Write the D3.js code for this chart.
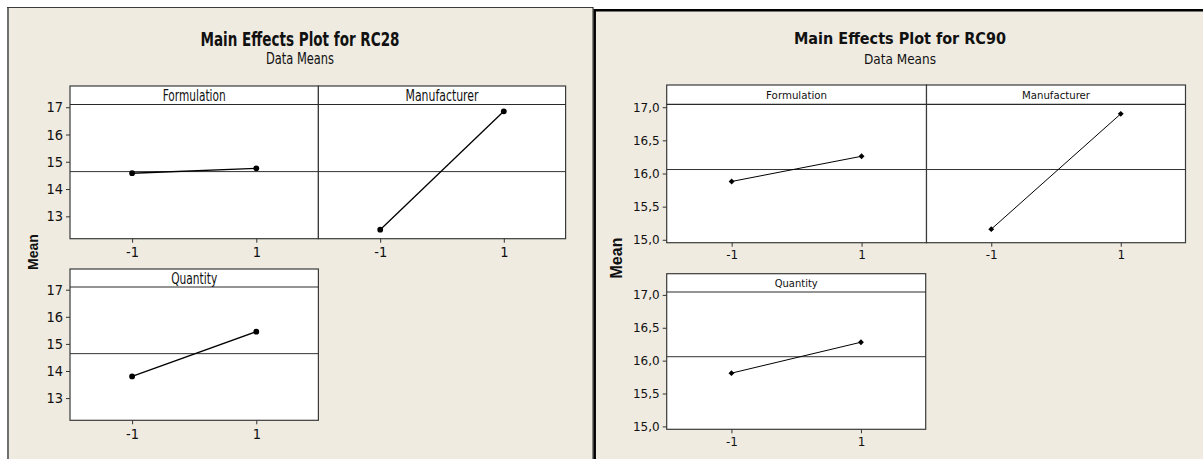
<!DOCTYPE html>
<html>
<head>
<meta charset="utf-8">
<script src="https://cdn.jsdelivr.net/npm/d3@7"></script>
<style>
  html, body { margin: 0; padding: 0; background: #ffffff; }
  svg { display: block; }
</style>
</head>
<body>
<svg id="chart" width="1203" height="459"></svg>
<script>
// ---------------- DATA ----------------
const factors = ["Formulation", "Manufacturer", "Quantity"];
const levels = [-1, 1];
const xTickLabels = ["-1", "1"];

const rc28Formulation = [14.58, 14.76];
const rc28Manufacturer = [12.51, 16.85];
const rc28Quantity = [13.80, 15.45];
const rc28GrandMean = [14.64];
const rc28Ticks = [13, 14, 15, 16, 17];

const rc90Formulation = [15.88, 16.26];
const rc90Manufacturer = [15.16, 16.90];
const rc90Quantity = [15.81, 16.28];
const rc90GrandMean = [16.06];
const rc90Ticks = [15.0, 15.5, 16.0, 16.5, 17.0];

const titles = ["Main Effects Plot for RC28", "Main Effects Plot for RC90"];
const subtitle = "Data Means";
const yLabel = "Mean";

// ---------------- DRAWING ----------------
const svg = d3.select("#chart");
const BG = "#efebe1";

// frames
svg.append("rect").attr("x", 0).attr("y", 0).attr("width", 1203).attr("height", 459).attr("fill", "#ffffff");
svg.append("rect").attr("x", 7).attr("y", 7).attr("width", 587).attr("height", 452).attr("fill", BG);
svg.append("line").attr("x1", 8).attr("x2", 8).attr("y1", 7).attr("y2", 459).attr("stroke", "#707070").attr("stroke-width", 2);
svg.append("line").attr("x1", 7).attr("x2", 593).attr("y1", 7.5).attr("y2", 7.5).attr("stroke", "#3a3a3a").attr("stroke-width", 1);
svg.append("line").attr("x1", 593).attr("x2", 593).attr("y1", 7).attr("y2", 459).attr("stroke", "#222").attr("stroke-width", 1);
svg.append("rect").attr("x", 594).attr("y", 9).attr("width", 609).attr("height", 450).attr("fill", BG);
svg.append("line").attr("x1", 594).attr("x2", 1203).attr("y1", 10.2).attr("y2", 10.2).attr("stroke", "#000").attr("stroke-width", 2.5);
svg.append("line").attr("x1", 594.7).attr("x2", 594.7).attr("y1", 9).attr("y2", 459).attr("stroke", "#000").attr("stroke-width", 2.5);

const narrow = "'Liberation Sans Narrow', 'DejaVu Sans Condensed', sans-serif";
const verd = "'DejaVu Sans', Verdana, sans-serif";

const charts = [
  {
    title: titles[0], titleX: 300, titleY: 46, titleLen: 199, titleFont: narrow, titleSize: 19,
    subX: 300, subY: 64, subFont: narrow, subSize: 15.5, subLen: 68,
    meanX: 33, meanY: 252, meanSize: 14,
    grand: rc28GrandMean[0], ticks: rc28Ticks, yDomain: [12.18, 17.10],
    fmt: d3.format("d"), tickFont: narrow, tickSize: 14.5, stripFont: narrow, stripSize: 15,
    marker: "circle", markerSize: 26, lineWidth: 1.3,
    panels: [
      { label: factors[0], labelLen: 63, values: rc28Formulation, x0: 70, x1: 318.4, top: 86, sb: 104.5, bottom: 238.7, yAxis: true },
      { label: factors[1], labelLen: 73, values: rc28Manufacturer, x0: 318.4, x1: 565.6, top: 86, sb: 104.5, bottom: 238.7, yAxis: false },
      { label: factors[2], labelLen: 46, values: rc28Quantity, x0: 70, x1: 318.4, top: 269, sb: 287, bottom: 420.3, yAxis: true }
    ]
  },
  {
    title: titles[1], titleX: 900, titleY: 44, titleLen: 212, titleFont: "'DejaVu Sans Condensed', 'DejaVu Sans', sans-serif", titleSize: 16,
    subX: 900, subY: 64, subFont: "'DejaVu Sans Condensed', 'DejaVu Sans', sans-serif", subSize: 13.5, subLen: 72,
    meanX: 616, meanY: 258, meanSize: 16,
    grand: rc90GrandMean[0], ticks: rc90Ticks, yDomain: [14.956, 17.044],
    fmt: v => d3.format(".1f")(v).replace(".", ","), tickFont: verd, tickSize: 12, stripFont: verd, stripSize: 10,
    marker: "diamond", markerSize: 22, lineWidth: 1,
    panels: [
      { label: factors[0], labelLen: 61, values: rc90Formulation, x0: 666.7, x1: 926.5, top: 85, sb: 104.3, bottom: 242.7, yAxis: true },
      { label: factors[1], labelLen: 68, values: rc90Manufacturer, x0: 926.5, x1: 1185.5, top: 85, sb: 104.3, bottom: 242.7, yAxis: false },
      { label: factors[2], labelLen: 43, values: rc90Quantity, x0: 666.7, x1: 925.7, top: 273.7, sb: 292, bottom: 429.3, yAxis: true }
    ]
  }
];

charts.forEach(c => {
  const g = svg.append("g");
  g.append("text").attr("x", c.titleX).attr("y", c.titleY).attr("text-anchor", "middle")
    .attr("font-family", c.titleFont).attr("font-weight", "bold").attr("font-size", c.titleSize)
    .attr("textLength", c.titleLen).attr("lengthAdjust", "spacingAndGlyphs")
    .attr("fill", "#111").text(c.title);
  g.append("text").attr("x", c.subX).attr("y", c.subY).attr("text-anchor", "middle")
    .attr("font-family", c.subFont).attr("font-size", c.subSize)
    .attr("textLength", c.subLen).attr("lengthAdjust", "spacingAndGlyphs")
    .attr("fill", "#111").text(subtitle);
  g.append("text").attr("transform", `translate(${c.meanX},${c.meanY}) rotate(-90)`)
    .attr("text-anchor", "middle").attr("dominant-baseline", "central")
    .attr("font-family", "'Liberation Sans', Arial, sans-serif").attr("font-weight", "bold")
    .attr("font-size", c.meanSize).attr("fill", "#111").text(yLabel);

  c.panels.forEach(p => {
    const x = d3.scaleLinear().domain([-2, 2]).range([p.x0, p.x1]);
    const y = d3.scaleLinear().domain(c.yDomain).range([p.bottom, p.sb]);
    const pg = g.append("g");

    pg.append("rect").attr("x", p.x0).attr("y", p.top).attr("width", p.x1 - p.x0).attr("height", p.bottom - p.top)
      .attr("fill", "#ffffff").attr("stroke", "#3a3a3a").attr("stroke-width", 1.2);
    pg.append("line").attr("x1", p.x0).attr("x2", p.x1).attr("y1", p.sb).attr("y2", p.sb)
      .attr("stroke", "#2a2a2a").attr("stroke-width", 1.2);
    pg.append("text").attr("x", (p.x0 + p.x1) / 2).attr("y", (p.top + p.sb) / 2 + 0.5)
      .attr("text-anchor", "middle").attr("dominant-baseline", "central")
      .attr("font-family", c.stripFont).attr("font-size", c.stripSize)
      .attr("textLength", p.labelLen).attr("lengthAdjust", "spacingAndGlyphs")
      .attr("fill", "#111").text(p.label);

    // grand mean reference line
    pg.append("line").attr("x1", p.x0).attr("x2", p.x1).attr("y1", y(c.grand)).attr("y2", y(c.grand))
      .attr("stroke", "#333").attr("stroke-width", 1);

    // y axis
    if (p.yAxis) {
      const ya = d3.axisLeft(y).tickValues(c.ticks).tickFormat(c.fmt).tickSize(4).tickPadding(3);
      const yg = pg.append("g").attr("transform", `translate(${p.x0},0)`).call(ya);
      yg.select(".domain").remove();
      yg.selectAll("line").attr("stroke", "#333");
      yg.selectAll("text").attr("font-family", c.tickFont).attr("font-size", c.tickSize).attr("fill", "#111");
    }
    // x axis
    const xa = d3.axisBottom(x).tickValues(levels).tickFormat((d, i) => xTickLabels[i]).tickSize(4).tickPadding(4);
    const xg = pg.append("g").attr("transform", `translate(0,${p.bottom})`).call(xa);
    xg.select(".domain").remove();
    xg.selectAll("line").attr("stroke", "#333");
    xg.selectAll("text").attr("font-family", c.tickFont).attr("font-size", c.tickSize).attr("fill", "#111");

    // data
    const pts = levels.map((l, i) => [l, p.values[i]]);
    pg.append("path").datum(pts)
      .attr("d", d3.line().x(d => x(d[0])).y(d => y(d[1])))
      .attr("fill", "none").attr("stroke", "#000").attr("stroke-width", c.lineWidth);
    const sym = d3.symbol().type(c.marker === "circle" ? d3.symbolCircle : d3.symbolDiamond2).size(c.markerSize);
    pg.selectAll(".pt").data(pts).enter().append("path")
      .attr("transform", d => `translate(${x(d[0])},${y(d[1])})`)
      .attr("d", sym).attr("fill", "#000");
  });
});
</script>
</body>
</html>
